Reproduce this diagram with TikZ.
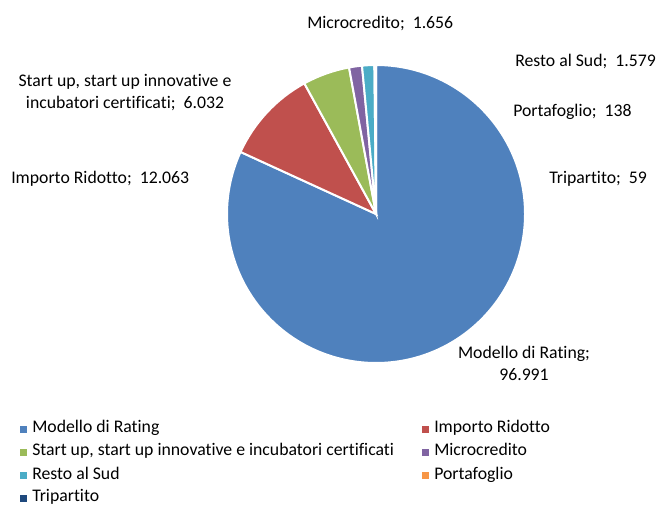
\documentclass[tikz,border=0pt]{standalone}
\usepackage{fontspec}
\setmainfont{Carlito}[Ligatures = NoCommon]
\definecolor{modello}{HTML}{4F81BD}
\definecolor{importo}{HTML}{C0504D}
\definecolor{startup}{HTML}{9BBB59}
\definecolor{micro}{HTML}{8064A2}
\definecolor{resto}{HTML}{4BACC6}
\definecolor{portaf}{HTML}{F79646}
\definecolor{tripart}{HTML}{1F497D}

\begin{document}
\begin{tikzpicture}[x = 0.75pt, y = 0.75pt, font = \fontsize{13.3}{16.5}\selectfont,
  lbl/.style = {inner sep = 0pt, anchor = west, text height = 1.6ex, text depth = 0.4ex},
  legbox/.style = {minimum size = 5.25pt, inner sep = 0pt}]

\useasboundingbox (0,0) rectangle (659,507);

% pie
\coordinate(C) at (376,293);
\foreach \a/\b/\c in {90/-204.611/modello, -204.611/-241.252/importo,
  -241.252/-259.574/startup, -259.574/-264.604/micro, -264.604/-269.400/resto,
  -269.400/-269.819/portaf, -269.819/-270/tripart}
  \draw[fill = \c, draw = white, line width = 1.5pt] (C) -- ++(\a:149) arc (\a:\b:149) -- cycle;

% data labels
\node(lmicro) at (307,482) [lbl] {Microcredito;~ 1.656};
\node(lresto) at (515,444) [lbl] {Resto al Sud;~ 1.579};
\node(lportaf) at (513,394) [lbl] {Portafoglio;~ 138};
\node(ltripart) at (549,327) [lbl] {Tripartito;~ 59};
\node(lstartup) at (125,414) [inner sep = 0pt, align = center] {Start up, start up innovative e\\incubatori certificati;~ 6.032};
\node(limporto) at (11,327) [lbl] {Importo Ridotto;~ 12.063};
\node(lmodello) at (524,143.5) [inner sep = 0pt, align = center] {Modello di Rating;\\96.991};

% legend
\foreach \x/\y/\c/\t in {23/78/modello/Modello di Rating, 425/78/importo/Importo Ridotto,
  23/55/startup/{Start up, start up innovative e incubatori certificati}, 425/55/micro/Microcredito,
  23/31.5/resto/Resto al Sud, 425/31.5/portaf/Portafoglio, 23/9/tripart/Tripartito}
  \node(k\c) at (\x,\y) [legbox, fill = \c] {} node(t\c) at (\x+9,\y) [lbl] {\t};

\end{tikzpicture}
\end{document}
